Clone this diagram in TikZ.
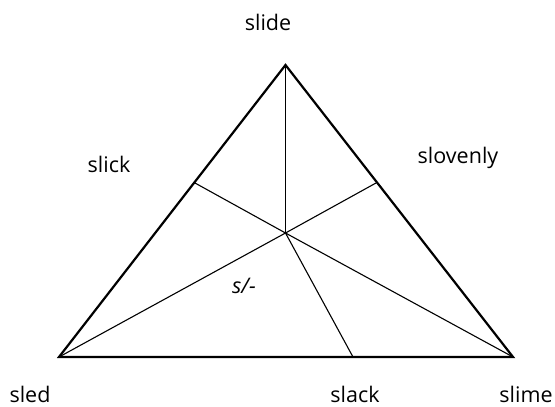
\documentclass[tikz,border=0pt]{standalone}
\usepackage{fontspec}
\setmainfont{Open Sans}
\begin{document}
\begin{tikzpicture}[x=1pt,y=-1pt,
  lbl/.style={font=\fontsize{21.5}{25}\selectfont, inner sep=0pt, anchor=base},
  outer/.style={line width=2.2pt, line join=miter},
  inner/.style={line width=1.1pt}]
\useasboundingbox (0,0) rectangle (555,407);
\coordinate (T) at (285.5,65);
\coordinate (L) at (59,357);
\coordinate (R) at (513,357);
\coordinate (C) at (285.5,233);
\coordinate (PL) at (195,183);
\coordinate (PR) at (376,183);
\coordinate (PB) at (353,357);
\draw[inner] (C) -- (T);
\draw[inner] (C) -- (L);
\draw[inner] (C) -- (R);
\draw[inner] (C) -- (PL);
\draw[inner] (C) -- (PR);
\draw[inner] (C) -- (PB);
\draw[outer] (T) -- (L) -- (R) -- cycle;
\node[lbl] (slide) at (268,30) {slide};
\node[lbl] (slick) at (109,172) {slick};
\node[lbl] (slovenly) at (458,163) {slovenly};
\node[lbl] (sl) at (244,293) {\itshape s/-};
\node[lbl] (sled) at (30,402) {sled};
\node[lbl] (slack) at (355,402.5) {slack};
\node[lbl] (slime) at (526,402) {slime};
\end{tikzpicture}
\end{document}
